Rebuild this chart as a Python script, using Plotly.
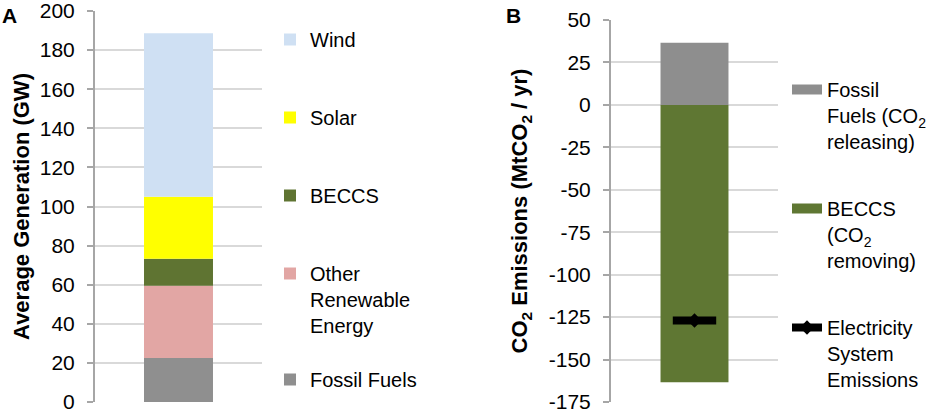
import plotly.graph_objects as go

# ---------------- data ----------------
category = ["2050"]

gen_names = ["Fossil Fuels", "Other<br>Renewable<br>Energy", "BECCS", "Solar", "Wind"]
gen_values = [22.5, 37.0, 13.8, 31.7, 83.6]          # GW
gen_colors = ["#8f8f8f", "#e2a6a4", "#5f7432", "#ffff00", "#cfe0f3"]
gen_rank = [5, 4, 3, 2, 1]                             # legend order (Wind on top)
gen_legend = ["legend3", "legend", "legend", "legend", "legend"]

em_fossil = [36.6]        # MtCO2/yr released
em_beccs = [-163.4]       # MtCO2/yr removed
em_net = [-127.0]         # net electricity system emissions

gen_ticks = [0, 20, 40, 60, 80, 100, 120, 140, 160, 180, 200]
em_ticks = [-175, -150, -125, -100, -75, -50, -25, 0, 25, 50]
em_ticklabels = [str(v) for v in em_ticks]

FONT = "Liberation Sans, Arial, sans-serif"
W, H = 949, 419
L = 16  # left margin (keeps the left axis title off the edge)


def px(x):
    """pixel x -> paper fraction"""
    return (x - L) / (W - L)


def py(y):
    """pixel y (from top) -> paper fraction"""
    return (H - y) / H


fig = go.Figure()

# ---------------- panel A ----------------
for name, val, col, rk, lg in zip(gen_names, gen_values, gen_colors, gen_rank, gen_legend):
    fig.add_trace(go.Bar(
        x=category, y=[val], name=name, marker=dict(color=col, line=dict(width=0)),
        width=0.413, xaxis="x", yaxis="y", legend=lg, legendgroup=name,
        legendrank=rk, hoverinfo="y+name"))

# ---------------- panel B ----------------
fig.add_trace(go.Bar(x=category, y=em_fossil, marker=dict(color="#8e8e8e", line=dict(width=0)),
                     width=0.407, xaxis="x2", yaxis="y2", showlegend=False,
                     name="Fossil Fuels (CO2 releasing)"))
fig.add_trace(go.Bar(x=category, y=em_beccs, marker=dict(color="#5f7733", line=dict(width=0)),
                     width=0.407, xaxis="x2", yaxis="y2", showlegend=False,
                     name="BECCS (CO2 removing)"))
# legend keys (wide bar-style keys)
fig.add_trace(go.Scatter(x=[None], y=[None], mode="lines", line=dict(color="#8e8e8e", width=10),
                         name="Fossil<br>Fuels (CO<sub>2</sub><br>releasing)",
                         xaxis="x2", yaxis="y2", legend="legend2", legendgroup="f"))
fig.add_trace(go.Scatter(x=[None], y=[None], mode="lines", line=dict(color="#5f7733", width=10),
                         name="BECCS<br>(CO<sub>2</sub><br>removing)",
                         xaxis="x2", yaxis="y2", legend="legend2", legendgroup="b"))
# net emissions: thick dash + diamond
fig.add_trace(go.Scatter(x=category, y=em_net, mode="markers",
                         marker=dict(symbol="line-ew", size=31, color="black",
                                     line=dict(width=8, color="black")),
                         xaxis="x2", yaxis="y2", showlegend=False, hoverinfo="skip"))
fig.add_trace(go.Scatter(x=category, y=em_net, mode="lines+markers",
                         line=dict(color="black", width=8),
                         marker=dict(symbol="diamond", size=11, color="black"),
                         name="Electricity<br>System<br>Emissions",
                         xaxis="x2", yaxis="y2", legend="legend2", legendgroup="e"))

axis_common = dict(showline=True, linecolor="#a6a6a6", linewidth=2,
                   ticks="outside", ticklen=6, tickcolor="#a6a6a6", tickwidth=2,
                   showgrid=True, gridcolor="#d9d9d9", gridwidth=1.5,
                   tickfont=dict(family=FONT, size=21, color="black"),
                   ticklabelstandoff=8, ticklabeloverflow="allow",
                   zeroline=False)

legend_common = dict(xanchor="left", yanchor="top", traceorder="grouped", valign="top",
                     font=dict(family=FONT, size=20, color="black"),
                     bgcolor="rgba(0,0,0,0)", maxheight=1)

fig.update_layout(
    width=W, height=H,
    margin=dict(l=L, r=0, t=0, b=0, autoexpand=False),
    paper_bgcolor="white", plot_bgcolor="white",
    barmode="relative",
    font=dict(family=FONT, size=20, color="black"),
    xaxis=dict(domain=[px(95), px(262)], range=[-0.5, 0.5], showticklabels=False,
               showgrid=False, showline=False, ticks="", automargin=False),
    yaxis=dict(domain=[py(402), py(11)], range=[0, 200], tickvals=gen_ticks,
               automargin=True,
               title=dict(text="<b>Average Generation (GW)</b>",
                          font=dict(family=FONT, size=22, color="black"), standoff=4),
               **axis_common),
    xaxis2=dict(domain=[px(611), px(778)], range=[-0.5, 0.5], showticklabels=False,
                showgrid=False, showline=False, ticks="", anchor="y2", automargin=False),
    yaxis2=dict(domain=[py(402), py(20)], range=[-175, 50], tickvals=em_ticks,
                ticktext=em_ticklabels, anchor="x2", automargin=False,
                title=dict(text="<b>CO<sub>2</sub> Emissions (MtCO<sub>2</sub> / yr)</b>",
                           font=dict(family=FONT, size=22, color="black")),
                **axis_common),
    legend=dict(x=px(270), y=py(20), tracegroupgap=49, **legend_common),
    legend3=dict(x=px(270), y=py(360), tracegroupgap=0, **legend_common),
    legend2=dict(x=px(787), y=py(70), tracegroupgap=38, **legend_common),
    annotations=[
        dict(text="<b>A</b>", x=px(0), y=py(2), xref="paper", yref="paper",
             xanchor="left", yanchor="top", showarrow=False,
             font=dict(family=FONT, size=21, color="black")),
        dict(text="<b>B</b>", x=px(504), y=py(2), xref="paper", yref="paper",
             xanchor="left", yanchor="top", showarrow=False,
             font=dict(family=FONT, size=21, color="black")),
    ],
)

fig.write_html("out.html", config={"displayModeBar": False},
               post_script="document.body.style.margin='0px';")
